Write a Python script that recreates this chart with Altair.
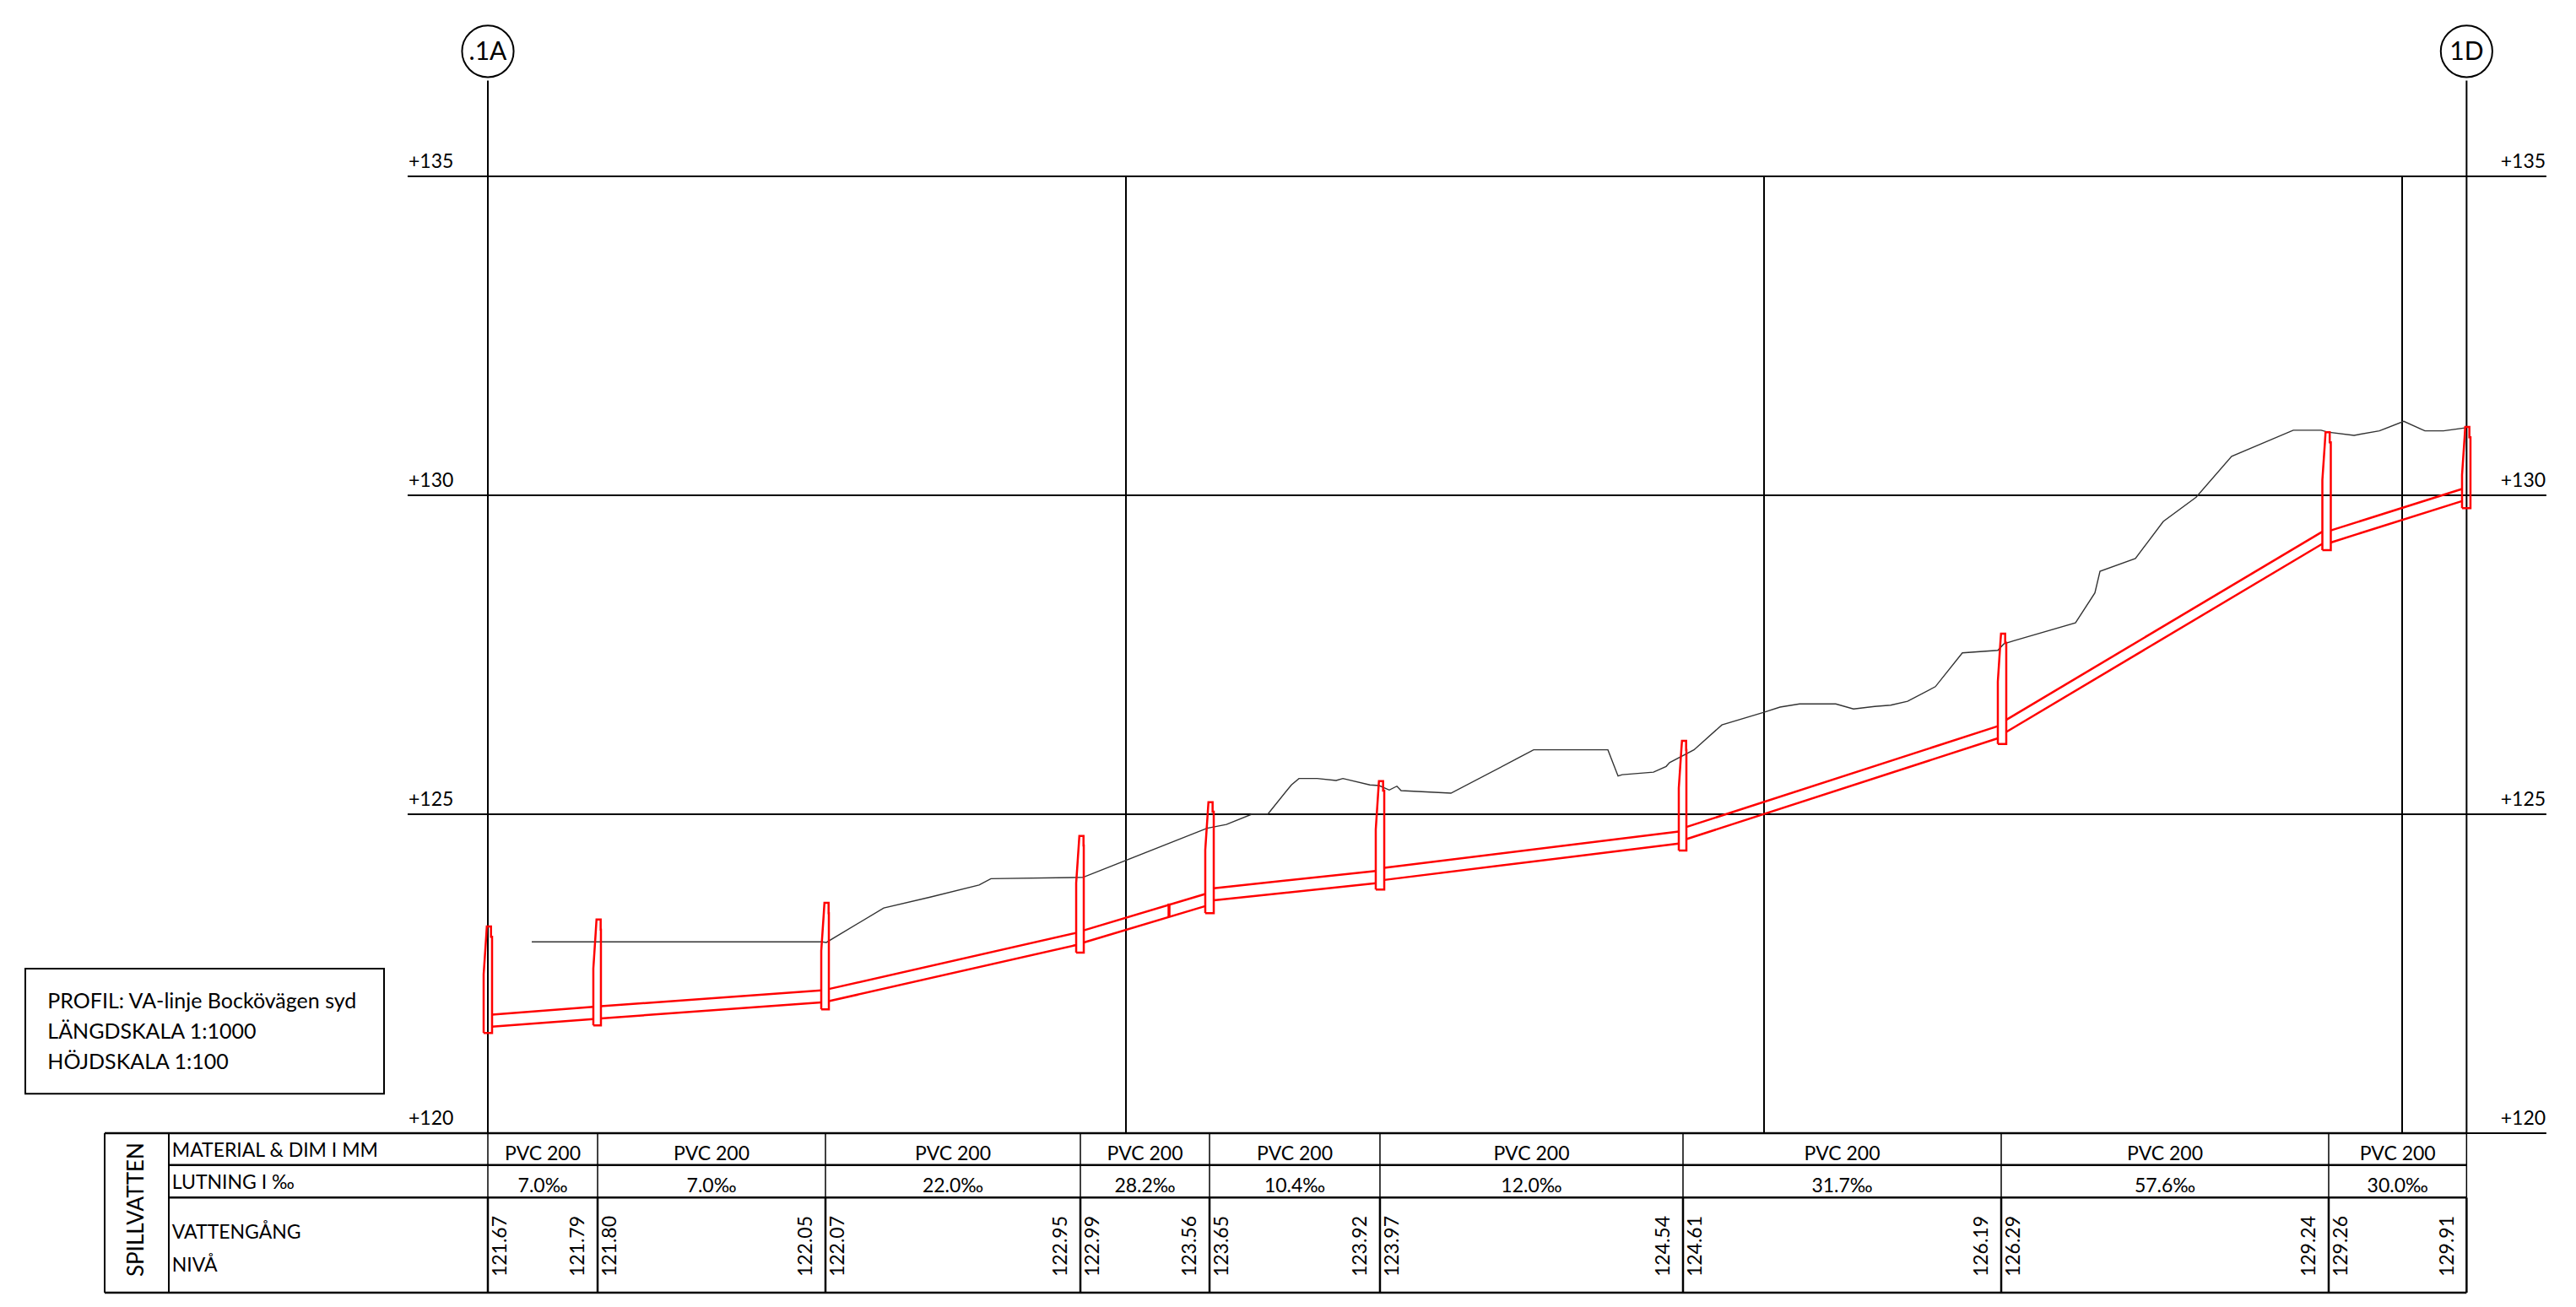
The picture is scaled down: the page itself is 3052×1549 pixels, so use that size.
import altair as alt
import pandas as pd

FONT = "Lato"

# --- values (chainage in m, level in m) ---
grid_levels = [135, 130, 125, 120]
grid_stations = [100, 200, 300]
axis_stations = [0, 310.1]
axis_names = [".1A", "1D"]

terrain_x = [6.88, 52.38, 53.04, 62.04, 69.31, 76.98, 78.84, 93.25, 112.7, 115.74, 119.71, 122.22,
             125.93, 127.12, 129.96, 132.94, 134.0, 138.23, 139.68, 141.27, 142.46, 143.12, 150.93,
             161.64, 163.89, 175.53, 177.12, 177.78, 182.67, 184.66, 185.19, 189.02, 193.39, 200.0,
             202.51, 205.56, 211.24, 214.02, 217.33, 219.84, 222.49, 226.85, 231.08, 236.64, 237.57,
             239.15, 248.81, 251.85, 252.65, 258.2, 262.57, 267.72, 273.28, 282.94, 287.30, 288.36,
             292.46, 296.43, 300.26, 303.57, 306.48, 310.05]
terrain_y = [123.00, 123.00, 122.99, 123.53, 123.70, 123.89, 123.99, 124.01, 124.78, 124.84, 125.00, 125.00,
             125.46, 125.56, 125.56, 125.53, 125.56, 125.46, 125.45, 125.38, 125.44, 125.37, 125.33,
             125.89, 126.01, 126.01, 125.60, 125.62, 125.66, 125.75, 125.81, 126.01, 126.40, 126.60,
             126.68, 126.73, 126.73, 126.65, 126.69, 126.71, 126.77, 127.00, 127.53, 127.57, 127.67,
             127.72, 128.00, 128.47, 128.81, 129.01, 129.59, 129.97, 130.61, 131.02, 131.02, 130.99,
             130.94, 131.01, 131.16, 131.01, 131.01, 131.06]

well_left = [-0.66, 16.53, 52.25, 92.2, 112.43, 139.15, 186.64, 236.64, 287.5, 309.39]
well_right = [0.66, 17.72, 53.44, 93.39, 113.76, 140.48, 187.83, 237.96, 288.82, 310.71]
well_bottom = [121.57, 121.69, 121.94, 122.83, 123.45, 123.82, 124.43, 126.10, 129.14, 129.80]
well_shoulder = [122.49, 122.58, 122.86, 123.92, 124.44, 124.76, 125.41, 127.08, 130.24, 130.32]
well_collar = [123.08, 123.19, 123.45, 124.51, 125.04, 125.37, 126.01, 127.69, 130.83, 130.91]
well_top = [123.24, 123.35, 123.61, 124.66, 125.19, 125.52, 126.15, 127.83, 130.99, 131.07]

cell_edges = [0, 17.2, 52.91, 92.86, 113.1, 139.81, 187.3, 237.17, 288.49, 310.1]
slopes = ["7.0‰", "7.0‰", "22.0‰", "28.2‰", "10.4‰", "12.0‰", "31.7‰", "57.6‰", "30.0‰"]
invert_start = [121.67, 121.80, 122.07, 122.99, 123.65, 123.97, 124.61, 126.29, 129.26]
invert_end = [121.79, 122.05, 122.95, 123.56, 123.92, 124.54, 126.19, 129.24, 129.91]
PIPE_HEIGHT = 0.19

# table rows, on the same vertical scale
row_lines = [120.0, 119.5, 118.99, 117.5]
table_left, table_mid = -60.05, -50.0

W, H = 3036, 1533
xs = alt.Scale(domain=[-75.397, 326.19], nice=False, zero=False)
ys = alt.Scale(domain=[117.381, 137.659], nice=False, zero=False)
X = alt.X("x:Q", scale=xs, axis=None)
Y = alt.Y("y:Q", scale=ys, axis=None)


def hrules(rows, width):
    return alt.Chart(pd.DataFrame(rows, columns=["x", "x2", "y"])).mark_rule(
        color="black", strokeWidth=width).encode(X, alt.X2("x2:Q"), Y)


def vrules(rows, width):
    return alt.Chart(pd.DataFrame(rows, columns=["x", "y", "y2"])).mark_rule(
        color="black", strokeWidth=width).encode(X, Y, alt.Y2("y2:Q"))


def text(rows, size, align="left", baseline="alphabetic", angle=0, font=FONT, weight=400):
    return alt.Chart(pd.DataFrame(rows, columns=["x", "y", "t"])).mark_text(
        font=font, fontSize=size, fontWeight=weight, align=align, baseline=baseline, angle=angle, color="black"
    ).encode(X, Y, text="t:N")


layers = []

# grid
layers.append(hrules([(-12.57, 322.6, v) for v in grid_levels], 2))
layers.append(vrules([(s, 135, 120) for s in grid_stations], 2))
layers.append(vrules([(s, 136.5, 120) for s in axis_stations], 2))
layers.append(text([(-12.43, v + 0.13, f"+{v}") for v in grid_levels], 23))
layers.append(text([(322.5, v + 0.13, f"+{v}") for v in grid_levels], 23, align="right"))

# axis balloons
layers.append(alt.Chart(pd.DataFrame({"x": axis_stations, "y": [136.96, 136.96]})).mark_point(
    shape="circle", size=3739, filled=False, color="black", strokeWidth=2, opacity=1).encode(X, Y))
layers.append(text([(s, 136.82, n) for s, n in zip(axis_stations, axis_names)], 30, align="center"))

# terrain
layers.append(alt.Chart(pd.DataFrame({"x": terrain_x, "y": terrain_y, "o": range(len(terrain_x))}))
              .mark_line(color="#333333", strokeWidth=1.4).encode(X, Y, order="o:Q"))

# pipe: lower line is the invert, upper line the pipe crown
pipe_rows = []
for i in range(9):
    for part, off in (("lo", 0.0), ("hi", PIPE_HEIGHT)):
        pipe_rows.append({"x": well_right[i], "y": invert_start[i] + off, "k": f"{i}{part}", "o": 0})
        pipe_rows.append({"x": well_left[i + 1], "y": invert_end[i] + off, "k": f"{i}{part}", "o": 1})
layers.append(alt.Chart(pd.DataFrame(pipe_rows)).mark_line(color="#ff0000", strokeWidth=2.5)
              .encode(X, Y, detail="k:N", order="o:Q"))

# manholes
well_rows = []
for i in range(10):
    l, r = well_left[i], well_right[i]
    outline = [(l, well_bottom[i]), (l, well_shoulder[i]), (l + 0.4, well_collar[i]), (l + 0.5, well_top[i]),
               (l + 1.15, well_top[i]), (l + 1.15, well_collar[i]), (r, well_collar[i]), (r, well_bottom[i]),
               (l, well_bottom[i])]
    for o, (px, py) in enumerate(outline):
        well_rows.append({"x": px, "y": py, "k": i, "o": o})
layers.append(alt.Chart(pd.DataFrame(well_rows)).mark_line(color="#ff0000", strokeWidth=2.5)
              .encode(X, Y, detail="k:N", order="o:Q"))

# small connection mark on the pipe
layers.append(alt.Chart(pd.DataFrame([{"x": 106.75, "y": 123.60, "y2": 123.39}])).mark_rule(
    color="#ff0000", strokeWidth=3.5).encode(X, Y, alt.Y2("y2:Q")))

# note box
layers.append(alt.Chart(pd.DataFrame([{"x": -72.49, "x2": -16.27, "y": 120.62, "y2": 122.58}])).mark_rect(
    fillOpacity=0, stroke="black", strokeWidth=2).encode(X, alt.X2("x2:Q"), Y, alt.Y2("y2:Q")))
layers.append(text([(-69.0, 121.96, "PROFIL: VA-linje Bockövägen syd"),
                    (-69.0, 121.48, "LÄNGDSKALA 1:1000"),
                    (-69.0, 121.0, "HÖJDSKALA 1:100")], 25))

# table
right = cell_edges[-1]
layers.append(hrules([(table_left, right, row_lines[0]), (table_left, right, row_lines[3]),
                      (table_mid, right, row_lines[1]), (table_mid, right, row_lines[2])], 2.5))
layers.append(vrules([(table_left, row_lines[0], row_lines[3]), (table_mid, row_lines[0], row_lines[3])], 2))
layers.append(vrules([(e, row_lines[0], row_lines[2]) for e in cell_edges], 1.5))
layers.append(vrules([(e, row_lines[2], row_lines[3]) for e in cell_edges], 2.5))
layers.append(text([(table_mid + 0.5, 119.63, "MATERIAL & DIM I MM"),
                    (table_mid + 0.5, 119.13, "LUTNING I ‰"),
                    (table_mid + 0.5, 118.35, "VATTENGÅNG"),
                    (table_mid + 0.5, 117.83, "NIVÅ")], 23))
layers.append(text([(-55, 117.75, "SPILLVATTEN")], 26, baseline="middle", angle=270))

mids = [(a + b) / 2 for a, b in zip(cell_edges[:-1], cell_edges[1:])]
layers.append(text([(m, 119.58, "PVC 200") for m in mids], 23, align="center"))
layers.append(text([(m, 119.07, s) for m, s in zip(mids, slopes)], 23, align="center"))
levels = []
for i in range(9):
    levels.append((cell_edges[i] + 1.95, 117.75, f"{invert_start[i]:.2f}"))
    levels.append((cell_edges[i + 1] - 3.0, 117.75, f"{invert_end[i]:.2f}"))
layers.append(text(levels, 23, baseline="middle", angle=270))

chart = alt.layer(*layers).properties(
    width=W, height=H, padding=0, background="white", autosize=alt.AutoSizeParams(type="none")
).configure_view(strokeWidth=0)

chart.save("out.html", embed_options={"renderer": "svg", "actions": False})
